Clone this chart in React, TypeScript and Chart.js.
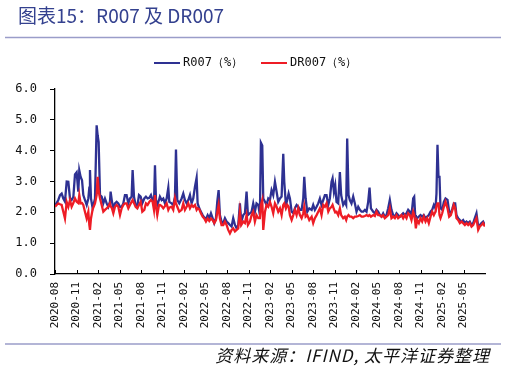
import React, { useEffect, useRef } from "react";
import { Chart, registerables } from "chart.js";

Chart.register(...registerables);

// x positions: months elapsed since 2020-08-01 (sampled roughly weekly, plus spike days)
const months = [
  0.00, 0.23, 0.46, 0.70, 0.93, 1.16, 1.39, 1.63, 1.86, 2.09, 2.32, 2.56, 2.79, 3.02, 3.25, 3.39, 3.58, 3.77, 3.95, 4.18,
  4.42, 4.65, 4.79, 4.88, 5.02, 5.25, 5.58, 5.81, 5.95, 6.09, 6.28, 6.51, 6.74, 6.97, 7.21, 7.44, 7.67, 7.76, 7.95, 8.14,
  8.37, 8.60, 8.83, 9.07, 9.30, 9.53, 9.76, 9.99, 10.23, 10.46, 10.69, 10.83, 11.02, 11.25, 11.48, 11.72, 11.95, 12.18, 12.46, 12.69,
  12.92, 13.16, 13.39, 13.62, 13.81, 13.95, 14.09, 14.27, 14.51,
  14.64, 14.88, 15.11, 15.34, 15.58, 15.81, 15.95, 16.27, 16.50, 16.74, 16.88, 17.06, 17.34, 17.67, 17.90, 18.13, 18.37, 18.60, 18.83, 19.06,
  19.29, 19.53, 19.76, 19.90, 20.13, 20.36, 20.60, 20.83, 21.06, 21.30, 21.53, 21.76, 21.99, 22.22, 22.46, 22.64, 22.83, 23.01, 23.24, 23.48,
  23.71, 23.94, 24.17, 24.41, 24.64, 24.87, 25.11, 25.34, 25.57, 25.80, 25.99, 26.27, 26.50, 26.73, 26.92, 27.20, 27.43, 27.66, 27.89, 28.12,
  28.36, 28.59, 28.73, 28.92, 29.06, 29.30, 29.52, 29.76, 29.99,
  30.22, 30.45, 30.69, 30.92, 31.15, 31.39, 31.62, 31.85, 31.99, 32.22, 32.41, 32.60, 32.78, 33.02, 33.25, 33.47, 33.71, 33.94, 34.17, 34.41,
  34.64, 34.78, 34.97, 35.20, 35.48, 35.81, 36.03, 36.26, 36.50, 36.73, 36.96, 37.19, 37.43, 37.66, 37.89, 38.13, 38.35, 38.59, 38.73, 38.92,
  39.10, 39.28, 39.52, 39.75, 39.93, 40.21, 40.44, 40.63, 40.77, 40.96, 41.14, 41.37, 41.61, 41.84, 42.07, 42.31, 42.54, 42.77, 43.00, 43.24,
  43.47, 43.70, 43.89, 44.08, 44.40, 44.63, 44.86, 45.09, 45.33,
  45.56, 45.79, 46.02, 46.26, 46.49, 46.72, 46.95, 47.19, 47.42, 47.65, 47.88, 48.12, 48.35, 48.58, 48.81, 49.05, 49.28, 49.51, 49.74, 49.98,
  50.12, 50.26, 50.35, 50.53, 50.77, 51.00, 51.23, 51.46, 51.70, 51.93, 52.16, 52.40, 52.63, 52.86, 53.09, 53.23, 53.37, 53.51, 53.65, 53.79,
  54.03, 54.26, 54.49, 54.77, 55.00, 55.23, 55.46, 55.65, 55.84, 56.02, 56.25, 56.49, 56.72, 56.95, 57.19, 57.42, 57.65, 57.88, 58.12, 58.35,
  58.58, 58.81, 59.05, 59.28, 59.51, 59.74, 59.98,
];

const r007 = [
  2.24, 2.30, 2.40, 2.56, 2.61, 2.45, 2.35, 3.00, 2.99, 2.45, 2.40, 2.50, 3.23, 3.30, 2.67, 3.36, 3.15, 3.04, 2.56, 2.40,
  2.24, 2.45, 2.80, 3.37, 2.45, 2.13, 2.45, 4.82, 4.50, 4.28, 2.56, 2.51, 2.29, 2.45, 2.29, 2.18, 2.35, 2.67, 2.34, 2.13,
  2.29, 2.34, 2.29, 2.18, 2.18, 2.29, 2.56, 2.56, 2.29, 2.45, 2.50, 3.37, 2.51, 2.24, 2.18, 2.56, 2.51, 2.29, 2.45, 2.51,
  2.45, 2.47, 2.56, 2.40, 2.24, 3.53, 2.40, 2.24, 2.40,
  2.51, 2.40, 2.45, 2.29, 2.45, 2.80, 2.34, 2.29, 2.24, 2.51, 4.04, 2.40, 2.29, 2.45, 2.61, 2.40, 2.29, 2.40, 2.56, 2.29,
  2.45, 2.83, 3.12, 2.29, 2.13, 2.02, 1.91, 1.83, 1.78, 1.91, 1.81, 1.97, 1.81, 1.65, 1.81, 2.34, 2.72, 1.91, 1.70, 1.65,
  1.81, 1.70, 1.65, 1.59, 1.54, 1.81, 1.59, 1.48, 1.59, 2.29, 1.70, 1.91, 1.97, 2.67, 1.91, 1.97, 2.02, 2.29, 2.02, 2.29,
  2.24, 1.91, 4.26, 4.17, 2.45, 2.34, 2.24, 2.45, 2.40,
  2.72, 2.56, 2.99, 2.67, 2.34, 2.45, 2.51, 3.90, 2.99, 2.24, 2.40, 2.61, 2.45, 2.02, 1.97, 2.13, 2.24, 2.18, 2.08, 2.08,
  2.45, 3.15, 2.45, 2.02, 2.13, 2.08, 2.24, 2.08, 2.18, 2.29, 2.45, 2.24, 2.40, 2.56, 2.56, 2.24, 2.45, 2.99, 3.10, 2.67,
  2.88, 2.34, 2.29, 3.31, 2.56, 2.24, 2.34, 2.24, 4.39, 2.56, 2.40, 2.29, 2.51, 2.29, 2.02, 2.18, 2.08, 2.02, 2.02, 2.08,
  2.02, 2.34, 2.80, 2.13, 2.02, 1.97, 2.08, 2.02, 1.91,
  1.86, 1.97, 1.86, 1.91, 2.13, 2.40, 2.08, 1.91, 1.86, 1.97, 1.91, 1.86, 1.91, 1.97, 1.91, 1.97, 2.08, 2.02, 1.91, 2.45,
  2.50, 1.91, 1.86, 1.81, 1.86, 1.91, 1.86, 1.91, 1.81, 1.86, 1.91, 2.02, 2.08, 2.24, 2.13, 2.61, 4.19, 3.15, 3.15, 2.13,
  2.08, 2.34, 2.45, 2.40, 2.02, 1.97, 2.13, 2.29, 2.29, 1.91, 1.81, 1.75, 1.70, 1.75, 1.65, 1.70, 1.65, 1.70, 1.59, 1.65,
  1.81, 1.97, 1.54, 1.59, 1.65, 1.70, 1.59,
];

const dr007 = [
  2.18, 2.24, 2.29, 2.26, 2.24, 2.02, 1.80, 2.34, 2.18, 2.40, 2.18, 2.30, 2.45, 2.34, 2.30, 2.56, 2.29, 2.30, 2.24, 2.02,
  1.80, 2.02, 1.59, 1.43, 1.80, 2.10, 2.29, 2.56, 3.15, 2.70, 2.45, 2.24, 2.02, 2.08, 2.13, 2.18, 2.29, 2.20, 2.13, 1.97,
  2.18, 2.24, 2.18, 1.91, 2.13, 2.24, 2.29, 2.29, 2.13, 2.24, 2.34, 2.40, 2.30, 2.18, 2.13, 2.24, 2.34, 2.02, 2.08, 2.29,
  2.24, 2.34, 2.40, 2.34, 2.08, 2.56, 2.20, 1.91, 2.24,
  2.24, 2.20, 2.13, 2.20, 2.29, 2.08, 2.15, 2.18, 2.08, 2.45, 2.30, 2.18, 2.02, 2.08, 2.29, 2.08, 2.18, 2.29, 2.13, 2.24,
  2.18, 2.24, 2.08, 2.13, 2.10, 1.97, 1.86, 1.80, 1.70, 1.80, 1.72, 1.80, 1.75, 1.65, 1.75, 2.00, 2.24, 1.80, 1.59, 1.59,
  1.70, 1.59, 1.43, 1.32, 1.43, 1.48, 1.38, 1.43, 1.48, 2.02, 1.59, 1.70, 1.65, 1.91, 1.59, 1.70, 1.91, 2.02, 1.70, 1.91,
  1.81, 1.81, 2.24, 2.40, 1.43, 2.02, 2.24, 2.18, 2.34,
  2.18, 1.97, 2.29, 2.18, 2.02, 2.13, 1.91, 2.24, 2.29, 2.13, 2.24, 2.18, 1.91, 1.75, 1.91, 2.08, 1.91, 2.13, 1.91, 1.81,
  1.97, 2.18, 1.86, 1.91, 1.75, 1.86, 1.65, 1.81, 1.91, 2.02, 2.13, 1.91, 2.24, 2.18, 2.29, 2.02, 2.13, 2.18, 2.24, 2.10,
  2.00, 2.02, 1.91, 2.13, 1.91, 1.81, 1.86, 1.75, 1.86, 1.91, 1.86, 1.86, 1.81, 1.86, 1.86, 1.88, 1.91, 1.86, 1.86, 1.88,
  1.91, 1.88, 1.91, 1.86, 1.91, 1.88, 2.02, 1.91, 1.91,
  1.86, 1.91, 1.81, 1.86, 1.91, 2.13, 1.81, 1.86, 1.81, 1.91, 1.81, 1.86, 1.91, 1.81, 1.91, 1.81, 1.97, 1.91, 1.75, 2.02,
  1.91, 1.70, 1.48, 1.75, 1.65, 1.81, 1.70, 1.86, 1.70, 1.81, 1.65, 1.86, 2.02, 1.91, 2.02, 2.20, 2.29, 2.29, 1.91, 1.81,
  1.97, 2.18, 2.34, 2.13, 1.86, 1.91, 2.08, 2.24, 2.13, 1.81, 1.75, 1.65, 1.70, 1.65, 1.59, 1.65, 1.59, 1.65, 1.54, 1.59,
  1.70, 1.81, 1.43, 1.54, 1.59, 1.65, 1.54,
];

const yTicks = [0, 1, 2, 3, 4, 5, 6];
const seriesNames = ["R007（%）", "DR007（%）"];
const titleText = "图表15：R007 及 DR007";
const sourceText = "资料来源：IFIND, 太平洋证券整理";
const startYear = 2020;
const startMonth = 8;
const spanMonths = 60;

const BLUE = "#2e3192";
const RED = "#ee1c25";
const RULE = "#9a9dc9";
const CJK = '"Noto Sans CJK SC", "DejaVu Sans", sans-serif';
const MONO = '"DejaVu Sans Mono", monospace';

function monthLabel(v: number): string {
  const idx = startMonth - 1 + Math.round(v);
  const y = startYear + Math.floor(idx / 12);
  const m = (idx % 12) + 1;
  return `${y}-${m < 10 ? "0" + m : m}`;
}

const decor = {
  id: "decor",
  afterDraw(chart: any) {
    const ctx = chart.ctx;
    const ca = chart.chartArea;
    ctx.save();
    // title
    ctx.fillStyle = "#34418f";
    ctx.font = `19px ${CJK}`;
    ctx.textBaseline = "middle";
    ctx.textAlign = "left";
    ctx.fillText(titleText, 18, 16);
    // rules
    ctx.strokeStyle = RULE;
    ctx.lineWidth = 1.5;
    ctx.beginPath();
    ctx.moveTo(5, 37.5);
    ctx.lineTo(501, 37.5);
    ctx.moveTo(5, 344);
    ctx.lineTo(501, 344);
    ctx.stroke();
    // legend
    const items = [
      { c: BLUE, x0: 154, x1: 180, tx: 183, t: seriesNames[0] },
      { c: RED, x0: 261, x1: 287, tx: 290, t: seriesNames[1] },
    ];
    ctx.font = `12px ${MONO}`;
    ctx.fillStyle = "#111";
    for (const it of items) {
      ctx.strokeStyle = it.c;
      ctx.lineWidth = 2;
      ctx.beginPath();
      ctx.moveTo(it.x0, 63);
      ctx.lineTo(it.x1, 63);
      ctx.stroke();
      ctx.fillText(it.t, it.tx, 63);
    }
    // inward x ticks
    const xs = chart.scales.x;
    ctx.strokeStyle = "#000";
    ctx.lineWidth = 1;
    ctx.beginPath();
    for (const t of xs.ticks) {
      const px = Math.round(xs.getPixelForValue(t.value)) + 0.5;
      ctx.moveTo(px, ca.bottom);
      ctx.lineTo(px, ca.bottom - 4);
    }
    ctx.stroke();
    // source
    ctx.font = `italic 17px ${CJK}`;
    ctx.fillStyle = "#111";
    ctx.textAlign = "right";
    (ctx as any).letterSpacing = "1px";
    ctx.fillText(sourceText, 490, 356);
    ctx.restore();
  },
};

export default function App() {
  const ref = useRef<HTMLCanvasElement | null>(null);
  useEffect(() => {
    if (!ref.current) return;
    const blueData = months.map((m, i) => ({ x: m, y: r007[i] }));
    const redData = months.map((m, i) => ({ x: m, y: dr007[i] }));
    const chart = new Chart(ref.current, {
      type: "line",
      data: {
        datasets: [
          { label: seriesNames[1], data: redData, borderColor: RED, borderWidth: 2.3, pointRadius: 0, tension: 0, order: 0 },
          { label: seriesNames[0], data: blueData, borderColor: BLUE, borderWidth: 2.3, pointRadius: 0, tension: 0, order: 1 },
        ],
      },
      options: {
        responsive: false,
        animation: false,
        layout: { padding: { left: 0, top: 89, right: 22, bottom: 0 } },
        plugins: { legend: { display: false }, tooltip: { enabled: false } },
        scales: {
          x: {
            type: "linear",
            min: 0,
            max: spanMonths,
            afterBuildTicks: (s: any) => {
              s.ticks = s.ticks.filter((t: any) => t.value < spanMonths);
            },
            afterFit: (s: any) => {
              s.height = 97;
            },
            ticks: {
              stepSize: 3,
              autoSkip: false,
              maxRotation: 90,
              minRotation: 90,
              padding: 8,
              color: "#111",
              font: { family: MONO, size: 11 },
              callback: (v: any) => monthLabel(Number(v)),
            },
            grid: { display: true, drawOnChartArea: false, drawTicks: false },
            border: { display: true, color: "#000", width: 1.3 },
          },
          y: {
            min: 0,
            max: 6,
            afterBuildTicks: (s: any) => {
              s.ticks = yTicks.map((v) => ({ value: v }));
            },
            afterFit: (s: any) => {
              s.width = 55;
            },
            ticks: {
              padding: 13,
              color: "#111",
              font: { family: MONO, size: 12 },
              callback: (v: any) => Number(v).toFixed(1),
            },
            grid: { display: true, drawOnChartArea: false, drawTicks: true, tickLength: 5, color: "#000" },
            border: { display: true, color: "#000", width: 1.3 },
          },
        },
      },
      plugins: [decor],
    });
    return () => chart.destroy();
  }, []);
  return (
    <div style={{ position: "absolute", left: 0, top: 0, width: 507, height: 371, background: "#fff" }}>
      <canvas ref={ref} width={507} height={371} style={{ display: "block" }} />
    </div>
  );
}
